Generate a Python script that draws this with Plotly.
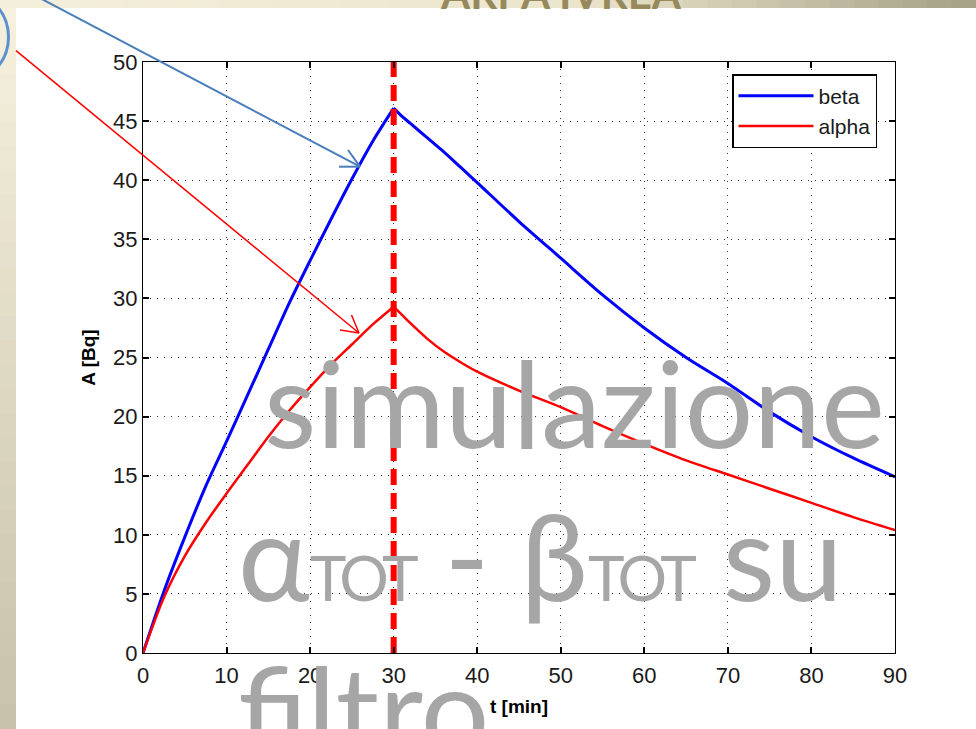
import plotly.graph_objects as go

# ---------------- data ----------------
t_rise = [0, 2.5, 5, 7.5, 10, 12.5, 15, 17.5, 20, 22.5, 25, 27.5, 30]
beta_rise = [0, 5.2, 9.8, 14.1, 17.9, 21.8, 25.7, 29.6, 33.2, 36.7, 40.1, 43.3, 46.1]
alpha_rise = [0, 4.7, 8.2, 11.0, 13.5, 15.9, 18.3, 20.5, 22.5, 24.4, 26.1, 27.8, 29.3]

t_decay = [30, 31, 32, 34, 36, 38, 40, 45, 50, 55, 60, 65, 70, 75, 80, 85, 90]
beta_decay = [46.1, 45.4, 44.8, 43.6, 42.4, 41.1, 39.8, 36.5, 33.4, 30.3, 27.5, 25.0, 22.8, 20.4, 18.3, 16.5, 14.9]
alpha_decay = [29.3, 28.6, 27.9, 26.6, 25.5, 24.6, 23.8, 22.2, 20.8, 19.2, 17.7, 16.3, 15.1, 13.9, 12.7, 11.5, 10.4]

stop_time = [30, 30]
stop_range = [0, 50]

x_ticks = list(range(0, 91, 10))
y_ticks = list(range(0, 51, 5))

# ---------------- layout geometry helpers ----------------
W, H = 976, 729
L, R, T, B = 143, 895, 62, 653


def px(x):
    return (x - L) / (R - L)


def py(y):
    return (B - y) / (B - T)


def hex2rgb(h):
    h = h.lstrip('#')
    return [int(h[i:i + 2], 16) for i in (0, 2, 4)]


def mix(c1, c2, f):
    a, b = hex2rgb(c1), hex2rgb(c2)
    return 'rgb(%d,%d,%d)' % tuple(round(a[i] + (b[i] - a[i]) * f) for i in range(3))


fig = go.Figure()

fig.add_trace(go.Scatter(x=t_rise, y=beta_rise, mode='lines', name='beta', legendgroup='beta',
                         line=dict(color='#0000ff', width=3, shape='spline', smoothing=0.8)))
fig.add_trace(go.Scatter(x=t_decay, y=beta_decay, mode='lines', name='beta', legendgroup='beta',
                         showlegend=False,
                         line=dict(color='#0000ff', width=3, shape='spline', smoothing=0.8)))
fig.add_trace(go.Scatter(x=t_rise, y=alpha_rise, mode='lines', name='alpha', legendgroup='alpha',
                         line=dict(color='#ff0000', width=2.5, shape='spline', smoothing=0.8)))
fig.add_trace(go.Scatter(x=t_decay, y=alpha_decay, mode='lines', name='alpha', legendgroup='alpha',
                         showlegend=False,
                         line=dict(color='#ff0000', width=2.5, shape='spline', smoothing=0.8)))
fig.add_trace(go.Scatter(x=stop_time, y=stop_range, mode='lines', showlegend=False,
                         line=dict(color='#ff0000', width=6, dash='16px,8px')))

shapes = []
# left gradient band
n = 30
for i in range(n):
    y0 = H * i / n
    y1 = H * (i + 1) / n + 1
    shapes.append(dict(type='rect', xref='paper', yref='paper', layer='below',
                       x0=px(0), x1=px(16), y0=py(y1), y1=py(y0),
                       fillcolor=mix('#f6f1de', '#c8c2aa', i / (n - 1)), line=dict(width=0)))
# top gradient band
n = 40
for i in range(n):
    x0 = W * i / n
    x1 = W * (i + 1) / n + 1
    f = i / (n - 1)
    if f < 0.6:
        c = mix('#f4efdc', '#ece5cc', f / 0.6)
    else:
        c = mix('#ece5cc', '#a6a288', (f - 0.6) / 0.4)
    shapes.append(dict(type='rect', xref='paper', yref='paper', layer='below',
                       x0=px(x0), x1=px(x1), y0=py(8), y1=py(0),
                       fillcolor=c, line=dict(width=0)))

# partial circle at top-left
cx, cy, cr = -38.6, 37, 47.1
shapes.append(dict(type='circle', xref='paper', yref='paper', layer='above',
                   x0=px(cx - cr), x1=px(cx + cr), y0=py(cy + cr), y1=py(cy - cr),
                   line=dict(color='#5b8fd0', width=3)))


def seg(p, q, color, width):
    return dict(type='line', xref='paper', yref='paper', layer='above',
                x0=px(p[0]), y0=py(p[1]), x1=px(q[0]), y1=py(q[1]),
                line=dict(color=color, width=width))


# blue arrow
btip = (360, 166.7)
shapes.append(seg((36, -4), btip, '#4a7ebb', 2))
shapes.append(seg(btip, (348, 150), '#4a7ebb', 2))
shapes.append(seg(btip, (339, 166.7), '#4a7ebb', 2))
# red arrow
rtip = (359, 333)
shapes.append(seg((16, 50.7), rtip, '#ff0000', 1.5))
shapes.append(seg(rtip, (351.5, 315), '#ff0000', 1.5))
shapes.append(seg(rtip, (340, 330), '#ff0000', 1.5))

grey = '#a6a6a6'
wm_font = dict(family='Lato', size=121, color=grey)
small = 'font-size:62px;letter-spacing:-5px'
annotations = [
    dict(text='simulazione', xref='paper', yref='paper', x=px(262), y=py(327),
         xanchor='left', yanchor='top', showarrow=False, font=wm_font),
    dict(text='α<span style="%s">TOT</span> - β<span style="%s">TOT</span> su' % (small, small),
         xref='paper', yref='paper', x=px(236), y=py(480),
         xanchor='left', yanchor='top', showarrow=False, font=wm_font),
    dict(text='filtro', xref='paper', yref='paper', x=px(236), y=py(633),
         xanchor='left', yanchor='top', showarrow=False, font=wm_font),
    dict(text='<b>ARPA IVREA</b>', xref='paper', yref='paper', x=px(438), y=py(-34),
         xanchor='left', yanchor='top', showarrow=False,
         font=dict(family='Lato', size=42, color='#96895c')),
]

axis_common = dict(
    showline=True, linecolor='black', linewidth=1, mirror='ticks',
    ticks='inside', ticklen=6, tickcolor='black', tickwidth=1.5,
    showgrid=True, gridcolor='#333333', gridwidth=1, griddash='1px,6px',
    zeroline=False,
    tickfont=dict(family='Liberation Sans', size=22, color='#1a1a1a'),
)

fig.update_layout(
    width=W, height=H, autosize=False,
    margin=dict(l=L, r=W - R, t=T, b=H - B, pad=0),
    paper_bgcolor='white', plot_bgcolor='white',
    xaxis=dict(range=[0, 90], tickmode='array', tickvals=x_ticks, ticklabelstandoff=3,
               title=dict(text='<b>t [min]</b>', standoff=12,
                          font=dict(family='Liberation Sans', size=19, color='black')),
               **axis_common),
    yaxis=dict(range=[0, 50], tickmode='array', tickvals=y_ticks,
               title=dict(text='<b>A [Bq]</b>', standoff=12,
                          font=dict(family='Liberation Sans', size=19, color='black')),
               **axis_common),
    legend=dict(x=px(732), y=py(74), xanchor='left', yanchor='top',
                bgcolor='white', bordercolor='black', borderwidth=1.5,
                font=dict(family='Liberation Sans', size=21, color='#1a1a1a'),
                itemwidth=75, tracegroupgap=0),
    shapes=shapes,
    annotations=annotations,
)

fig.write_html('out.html')
